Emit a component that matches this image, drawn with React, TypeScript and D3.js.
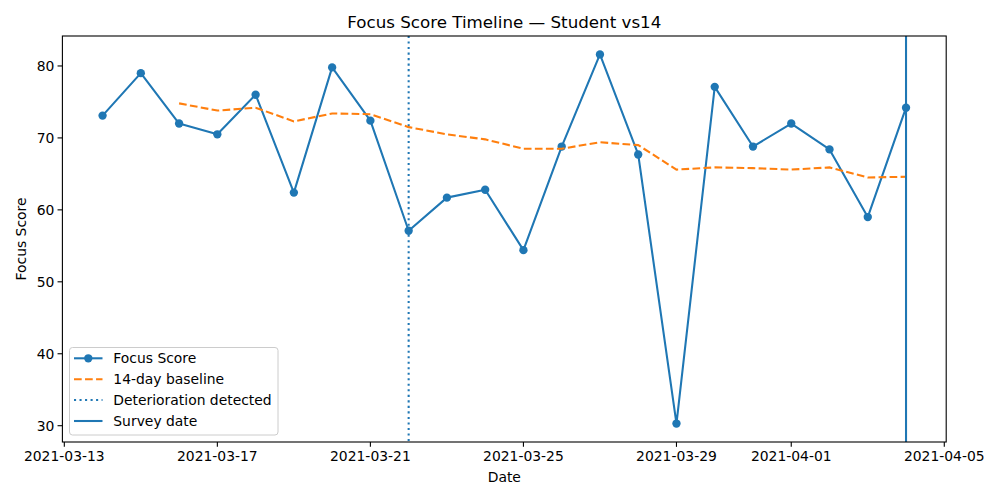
import React from "react";
import * as d3 from "d3";

const dates: string[] = [
  "2021-03-14","2021-03-15","2021-03-16","2021-03-17","2021-03-18","2021-03-19","2021-03-20",
  "2021-03-21","2021-03-22","2021-03-23","2021-03-24","2021-03-25","2021-03-26","2021-03-27",
  "2021-03-28","2021-03-29","2021-03-30","2021-03-31","2021-04-01","2021-04-02","2021-04-03","2021-04-04",
];
const focusScores: number[] = [
  73.1, 79.0, 72.0, 70.5, 76.0, 62.4, 79.8, 72.4, 57.1, 61.7, 62.8,
  54.4, 68.8, 81.6, 67.7, 30.3, 77.1, 68.8, 72.0, 68.4, 59.0, 74.2,
];
const baselineDates: string[] = dates.slice(2);
const baselineValues: number[] = [
  74.8, 73.8, 74.2, 72.3, 73.4, 73.3, 71.5, 70.5, 69.8, 68.5, 68.5,
  69.4, 69.0, 65.6, 65.9, 65.8, 65.6, 65.9, 64.5, 64.6,
];
const deteriorationDate = "2021-03-22";
const surveyDate = "2021-04-04";
const xTickLabels: string[] = ["2021-03-13","2021-03-17","2021-03-21","2021-03-25","2021-03-29","2021-04-01","2021-04-05"];
const yTicks: number[] = [30, 40, 50, 60, 70, 80];
const legendLabels: string[] = ["Focus Score", "14-day baseline", "Deterioration detected", "Survey date"];

const parse = (s: string) => {
  const [y, m, d] = s.split("-").map(Number);
  return new Date(Date.UTC(y, m - 1, d));
};

const BLUE = "#1f77b4";
const ORANGE = "#ff7f0e";
const FONT = "DejaVu Sans, sans-serif";

export default function App() {
  const W = 1000, H = 500;
  const left = 62.4, right = 946.2, top = 36, bottom = 442;
  const DAY = 86400000;
  const d0 = parse(dates[0]).getTime();
  const d1 = parse(dates[dates.length - 1]).getTime();
  const xm = (d1 - d0) * 0.05;
  const x = d3.scaleUtc().domain([new Date(d0 - xm), new Date(d1 + xm)]).range([left, right]);
  const vmin = d3.min(focusScores)!, vmax = d3.max(focusScores)!;
  const ym = (vmax - vmin) * 0.05;
  const y = d3.scaleLinear().domain([vmin - ym, vmax + ym]).range([bottom, top]);

  const line = d3.line<[Date, number]>().x(d => x(d[0])).y(d => y(d[1]));
  const focusPts: [Date, number][] = dates.map((d, i) => [parse(d), focusScores[i]]);
  const basePts: [Date, number][] = baselineDates.map((d, i) => [parse(d), baselineValues[i]]);
  const xDet = x(parse(deteriorationDate));
  const xSur = x(parse(surveyDate));

  const lw = 2.08;
  const dashed = "7.7 3.33";
  const dotted = "2.08 3.44";

  const lgX = 69.5, lgY = 347.5, lgW = 208.5, lgH = 87.5;
  const rowY = [358.3, 379.2, 400, 421];

  return (
    <svg width={W} height={H} style={{ position: "absolute", left: 0, top: 0, background: "#fff" }} fontFamily={FONT}>
      <rect x={0} y={0} width={W} height={H} fill="#fff" />
      <defs>
        <clipPath id="plotclip">
          <rect x={left} y={top} width={right - left} height={bottom - top} />
        </clipPath>
      </defs>
      <g clipPath="url(#plotclip)">
        <line x1={xDet} x2={xDet} y1={top} y2={bottom} stroke={BLUE} strokeWidth={lw} strokeDasharray={dotted} />
        <path d={line(focusPts)!} fill="none" stroke={BLUE} strokeWidth={lw} strokeLinejoin="round" />
        {focusPts.map((p, i) => (
          <circle key={i} cx={x(p[0])} cy={y(p[1])} r={4.17} fill={BLUE} />
        ))}
        <path d={line(basePts)!} fill="none" stroke={ORANGE} strokeWidth={lw} strokeDasharray={dashed} />
        <line x1={xSur} x2={xSur} y1={top} y2={bottom} stroke={BLUE} strokeWidth={lw} />
      </g>
      <rect x={left} y={top} width={right - left} height={bottom - top} fill="none" stroke="#000" strokeWidth={1.1} />
      {xTickLabels.map((t, i) => {
        const px = x(parse(t));
        return (
          <g key={i}>
            <line x1={px} x2={px} y1={bottom} y2={bottom + 4.86} stroke="#000" strokeWidth={1.1} />
            <text x={px} y={bottom + 19} textAnchor="middle" fontSize={13.9} fill="#000">{t}</text>
          </g>
        );
      })}
      {yTicks.map((t, i) => {
        const py = y(t);
        return (
          <g key={i}>
            <line x1={left - 4.86} x2={left} y1={py} y2={py} stroke="#000" strokeWidth={1.1} />
            <text x={left - 8} y={py + 5} textAnchor="end" fontSize={13.9} fill="#000">{t}</text>
          </g>
        );
      })}
      <text x={(left + right) / 2} y={482} textAnchor="middle" fontSize={13.9} fill="#000">Date</text>
      <text transform={`translate(26,${(top + bottom) / 2}) rotate(-90)`} textAnchor="middle" fontSize={13.9} fill="#000">Focus Score</text>
      <text x={(left + right) / 2} y={28} textAnchor="middle" fontSize={16.7} fill="#000">Focus Score Timeline — Student vs14</text>

      <rect x={lgX} y={lgY} width={lgW} height={lgH} rx={3} fill="#fff" fillOpacity={0.8} stroke="#cccccc" strokeWidth={1} />
      <line x1={74} x2={102.5} y1={rowY[0]} y2={rowY[0]} stroke={BLUE} strokeWidth={lw} />
      <circle cx={88.3} cy={rowY[0]} r={4.17} fill={BLUE} />
      <line x1={74} x2={102.5} y1={rowY[1]} y2={rowY[1]} stroke={ORANGE} strokeWidth={lw} strokeDasharray={dashed} />
      <line x1={74} x2={102.5} y1={rowY[2]} y2={rowY[2]} stroke={BLUE} strokeWidth={lw} strokeDasharray={dotted} />
      <line x1={74} x2={102.5} y1={rowY[3]} y2={rowY[3]} stroke={BLUE} strokeWidth={lw} />
      {legendLabels.map((l, i) => (
        <text key={i} x={113.3} y={rowY[i] + 5} fontSize={13.9} fill="#000">{l}</text>
      ))}
    </svg>
  );
}
